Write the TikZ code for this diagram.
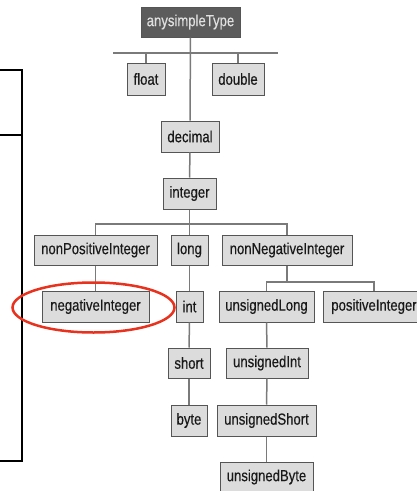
\documentclass[tikz,border=0pt]{standalone}
\usepackage{fontspec}
\setmainfont{Liberation Sans}[FakeStretch=0.82,FakeBold=0.4]
\usetikzlibrary{shadows,shapes.geometric}
\definecolor{boxfill}{HTML}{DCDCDC}
\definecolor{boxline}{HTML}{555555}
\definecolor{darkfill}{HTML}{5C5C5C}
\definecolor{wire}{HTML}{7A7A7A}
\definecolor{ringred}{HTML}{E8321E}
\begin{document}
\begin{tikzpicture}[x=1pt,y=-1pt,
  tbox/.style={draw=boxline, line width=1pt, fill=boxfill, minimum height=31pt,
    inner sep=0pt, font=\fontsize{16}{16}\selectfont, text=black!90,
    drop shadow={shadow xshift=1pt, shadow yshift=-1pt, fill=gray!55, opacity=1}},
  darkbox/.style={tbox, fill=darkfill, text=white!88!black},
  wireline/.style={draw=wire, line width=1.5pt},
  bracket/.style={draw=black, line width=1.6pt},
  ring/.style={draw=ringred, line width=2.5pt}]
\useasboundingbox (0,0) rectangle (417,491);
\clip (0,0) rectangle (417,491);
\fill[white] (0,0) rectangle (417,491);

% left bracket
\coordinate (bTL) at (-2,70);
\coordinate (bTR) at (22,70);
\coordinate (bML) at (-2,135);
\coordinate (bMR) at (22,135);
\coordinate (bBL) at (-2,461);
\coordinate (bBR) at (22,461);
\draw[bracket] (bTL) -- (bTR) -- (bBR) -- (bBL);
\draw[bracket] (bML) -- (bMR);

% nodes
\node[darkbox, minimum width=99pt, minimum height=30pt] (anysimple) at (190.5,22) {anysimpleType};
\node[tbox, minimum width=38pt, minimum height=32pt] (float) at (146,79) {float};
\node[tbox, minimum width=52pt, minimum height=32pt] (double) at (238,79) {double};
\node[tbox, minimum width=58pt] (decimal) at (190,136.5) {decimal};
\node[tbox, minimum width=53pt] (integer) at (189.5,193.5) {integer};
\node[tbox, minimum width=123pt, minimum height=30pt] (nonpos) at (95.5,250) {nonPositiveInteger};
\node[tbox, minimum width=37pt, minimum height=30pt] (long) at (189.5,250) {long};
\node[tbox, minimum width=130pt, minimum height=30pt] (nonneg) at (287,250) {nonNegativeInteger};
\node[tbox, minimum width=107pt] (negint) at (95.5,306.5) {negativeInteger};
\node[tbox, minimum width=27pt] (int) at (189.5,306.5) {int};
\node[tbox, minimum width=95pt] (ulong) at (266.5,306.5) {unsignedLong};
\node[tbox, minimum width=102pt] (posint) at (374,306.5) {positiveInteger};
\node[tbox, minimum width=42pt, minimum height=30pt] (short) at (189,363) {short};
\node[tbox, minimum width=82pt, minimum height=30pt] (uint) at (267,363) {unsignedInt};
\node[tbox, minimum width=36pt] (byte) at (189,420.5) {byte};
\node[tbox, minimum width=99pt] (ushort) at (266.5,420.5) {unsignedShort};
\node[tbox, minimum width=93pt, minimum height=30pt] (ubyte) at (266.5,477) {unsignedByte};

% connectors
\coordinate (topL) at (113,53);
\coordinate (topR) at (278,53);
\draw[wireline] (topL) -- (topR);
\draw[wireline] (anysimple.south) -- (decimal.north);
\draw[wireline] (float.north) -- (float.north |- topL);
\draw[wireline] (double.north) -- (double.north |- topL);
\draw[wireline] (decimal.south) -- (integer.north);

\coordinate (midbar) at (190,224);
\draw[wireline] (nonpos.north) |- (midbar) -| (nonneg.north);
\draw[wireline] (integer.south) -- (long.north);
\draw[wireline] (nonpos.south) -- (negint.north);
\draw[wireline] (long.south) -- (int.north);
\draw[wireline] (int.south) -- (short.north);
\draw[wireline] (short.south) -- (byte.north);

\coordinate (rbar) at (287,282);
\draw[wireline] (ulong.north) |- (rbar) -| (posint.north);
\draw[wireline] (nonneg.south) -- (rbar);
\draw[wireline] (ulong.south) -- (uint.north);
\draw[wireline] (uint.south) -- (ushort.north);
\draw[wireline] (ushort.south) -- (ubyte.north);

% red ring
\node[ring, ellipse, minimum width=162pt, minimum height=50pt, inner sep=0pt] (ringshape) at (93.5,307.5) {};
\end{tikzpicture}
\end{document}
